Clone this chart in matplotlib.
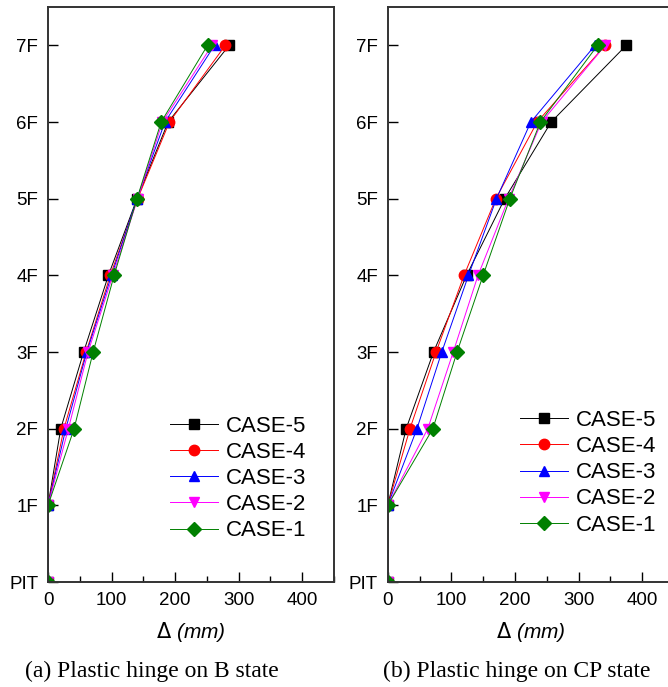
import numpy as np
from matplotlib import pyplot as plt

plt.rcParams['font.family'] = ['Liberation Sans', 'DejaVu Sans']

# storey levels (PIT .. 7F)
floors = ['PIT', '1F', '2F', '3F', '4F', '5F', '6F', '7F']
levels = np.arange(len(floors))

cases = ['CASE-5', 'CASE-4', 'CASE-3', 'CASE-2', 'CASE-1']
colors = ['black', 'red', 'blue', 'magenta', 'green']
markers = ['s', 'o', '^', 'v', 'D']

# displacement (mm), plastic hinge on B state
b_case5 = [0, 0, 20, 56, 95, 140, 189, 285]
b_case4 = [0, 0, 25, 60, 98, 141, 191, 279]
b_case3 = [0, 0, 28, 61, 100, 140, 184, 262]
b_case2 = [0, 0, 32, 63, 102, 141, 180, 258]
b_case1 = [0, 0, 41, 71, 104, 140, 178, 251]

# displacement (mm), plastic hinge on CP state
cp_case5 = [0, 0, 29, 72, 124, 184, 257, 375]
cp_case4 = [0, 0, 35, 76, 120, 170, 235, 342]
cp_case3 = [0, 0, 46, 85, 127, 171, 225, 326]
cp_case2 = [0, 0, 63, 103, 142, 190, 242, 342]
cp_case1 = [0, 0, 71, 109, 150, 192, 240, 330]

b_data = [b_case5, b_case4, b_case3, b_case2, b_case1]
cp_data = [cp_case5, cp_case4, cp_case3, cp_case2, cp_case1]

fig = plt.figure(figsize=(6.68, 6.87), dpi=100)
ax1 = fig.add_axes([0.0719, 0.1528, 0.4281, 0.837])
ax2 = fig.add_axes([0.5804, 0.1528, 0.4285, 0.837])


def draw(ax, data, leg_xy, caption, cap_x):
    for vals, lab, c, m in zip(data, cases, colors, markers):
        ax.plot(vals, levels, color=c, lw=0.7, marker=m, ms=7.5 if m != 'D' else 7,
                mec=c, mfc=c, label=lab)
    ax.set_xlim(0, 450)
    ax.set_ylim(0, 7.5)
    ax.set_xticks([0, 100, 200, 300, 400])
    ax.set_xticks(np.arange(50, 451, 100), minor=True)
    ax.set_yticks(levels)
    ax.set_yticklabels(floors)
    ax.tick_params(direction='in', length=7, width=1, labelsize=13.5, pad=7)
    ax.tick_params(which='minor', direction='in', length=4, width=1)
    for s in ax.spines.values():
        s.set_linewidth(1.4)
        s.set_color('#333333')
    ax.set_xlabel(r'$\mathit{\Delta}$ (mm)', fontsize=15, style='italic', labelpad=8)
    ax.legend(loc='upper left', bbox_to_anchor=leg_xy, frameon=False,
              fontsize=16, handlelength=2.15, handletextpad=0.36,
              labelspacing=0.23, borderpad=0, borderaxespad=0)
    fig.text(cap_x, 0.022, caption, ha='center', va='center',
             fontsize=17, family=['Liberation Serif', 'DejaVu Serif'])


draw(ax1, b_data, (0.427, 0.289), '(a) Plastic hinge on B state', 0.2275)
draw(ax2, cp_data, (0.462, 0.299), '(b) Plastic hinge on CP state', 0.774)

fig.savefig('out.png', dpi=100)
